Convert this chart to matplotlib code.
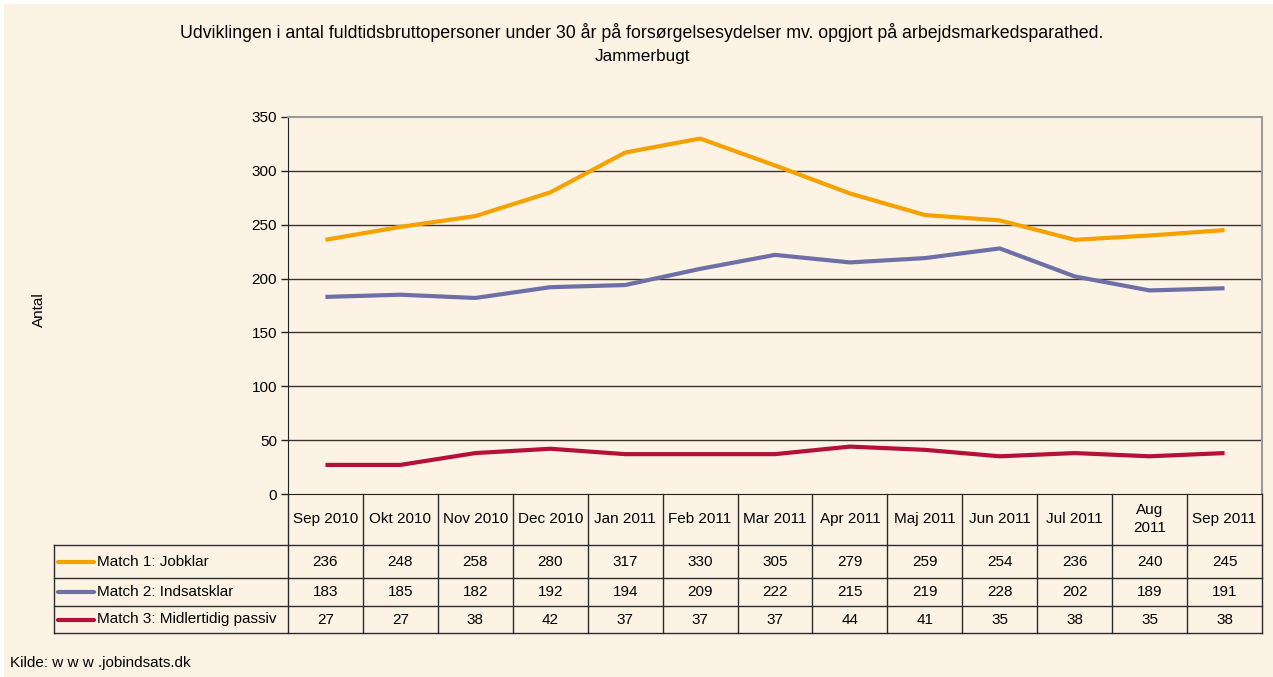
import matplotlib
matplotlib.use("Agg")
import matplotlib.pyplot as plt
from matplotlib.lines import Line2D
from matplotlib.transforms import blended_transform_factory

months = ["Sep 2010", "Okt 2010", "Nov 2010", "Dec 2010", "Jan 2011", "Feb 2011",
          "Mar 2011", "Apr 2011", "Maj 2011", "Jun 2011", "Jul 2011", "Aug\n2011", "Sep 2011"]
series_names = ["Match 1: Jobklar", "Match 2: Indsatsklar", "Match 3: Midlertidig passiv"]
jobklar = [236, 248, 258, 280, 317, 330, 305, 279, 259, 254, 236, 240, 245]
indsatsklar = [183, 185, 182, 192, 194, 209, 222, 215, 219, 228, 202, 189, 191]
passiv = [27, 27, 38, 42, 37, 37, 37, 44, 41, 35, 38, 35, 38]
colors = ["#F5A100", "#6E6FA6", "#B5103C"]
yticks = [0, 50, 100, 150, 200, 250, 300, 350]

plt.rcParams['font.family'] = ['Liberation Sans', 'DejaVu Sans']
FS = 11
BG = "#FDF3E4"
W, H = 1273, 677
fig = plt.figure(figsize=(W / 100, H / 100), dpi=100, facecolor="white")
fig.patches.append(plt.Rectangle((4 / W, 0), 1 - 4 / W, 1 - 4 / H, transform=fig.transFigure,
                                 facecolor=BG, edgecolor="none", zorder=-10))

L, R, T, B = 288, 1262, 117, 494
ax = fig.add_axes([L / W, 1 - B / H, (R - L) / W, (B - T) / H])
ax.set_facecolor(BG)
x = list(range(len(months)))
for vals, c in zip([jobklar, indsatsklar, passiv], colors):
    ax.plot(x, vals, color=c, lw=3.0, solid_capstyle="butt", zorder=3)
ax.set_xlim(-0.5, len(months) - 0.5)
ax.set_ylim(0, 350)
ax.set_yticks(yticks)
ax.set_yticklabels([str(v) for v in yticks], fontsize=FS)
ax.set_xticks([])
for v in yticks[1:-1]:
    ax.axhline(v, color="#3a3330", lw=1.0, zorder=1)
ax.spines['left'].set_color("#222222")
ax.spines['bottom'].set_color("#222222")
ax.spines['top'].set_color("#9a9a9a")
ax.spines['right'].set_color("#9a9a9a")
ax.spines['top'].set_linewidth(1.5)
ax.spines['right'].set_linewidth(1.5)
ax.tick_params(axis='y', length=5, width=1, color="#222222", pad=3)
ax.set_ylabel("Antal", fontsize=FS)
ax.yaxis.set_label_coords(-0.249, 0.49)

def fy(py):
    return 1 - py / H

trans = blended_transform_factory(ax.transData, fig.transFigure)
lc = "#2b2b2b"
rows_y = [494, 545, 578, 606, 633]
n = len(months)
for i in range(n + 1):
    xx = i - 0.5
    fig.add_artist(Line2D([xx, xx], [fy(494), fy(633)], transform=trans, color=lc, lw=1.0))
for py in rows_y[1:]:
    fig.add_artist(Line2D([54 / W, R / W], [fy(py), fy(py)], transform=fig.transFigure, color=lc, lw=1.0))
fig.add_artist(Line2D([54 / W, 54 / W], [fy(545), fy(633)], transform=fig.transFigure, color=lc, lw=1.0))
for i, m in enumerate(months):
    fig.text(i, fy(519), m, transform=trans, ha="center", va="center", fontsize=FS, linespacing=1.45)
for r, (name, vals, c) in enumerate(zip(series_names, [jobklar, indsatsklar, passiv], colors)):
    yc = fy((rows_y[r + 1] + rows_y[r + 2]) / 2)
    fig.add_artist(Line2D([58 / W, 94 / W], [yc, yc], transform=fig.transFigure, color=c, lw=3.0,
                          solid_capstyle="round"))
    fig.text(97 / W, yc, name, ha="left", va="center", fontsize=FS)
    for i, v in enumerate(vals):
        fig.text(i, yc, str(v), transform=trans, ha="center", va="center", fontsize=FS)

fig.text(642 / W, fy(32), "Udviklingen i antal fuldtidsbruttopersoner under 30 år på forsørgelsesydelser mv. opgjort på arbejdsmarkedsparathed.",
         ha="center", va="center", fontsize=12.8)
fig.text(642 / W, fy(56), "Jammerbugt", ha="center", va="center", fontsize=12.3)
fig.text(10 / W, fy(663), "Kilde: w w w .jobindsats.dk", ha="left", va="center", fontsize=FS)

fig.savefig("out.png", dpi=100, facecolor="white")
